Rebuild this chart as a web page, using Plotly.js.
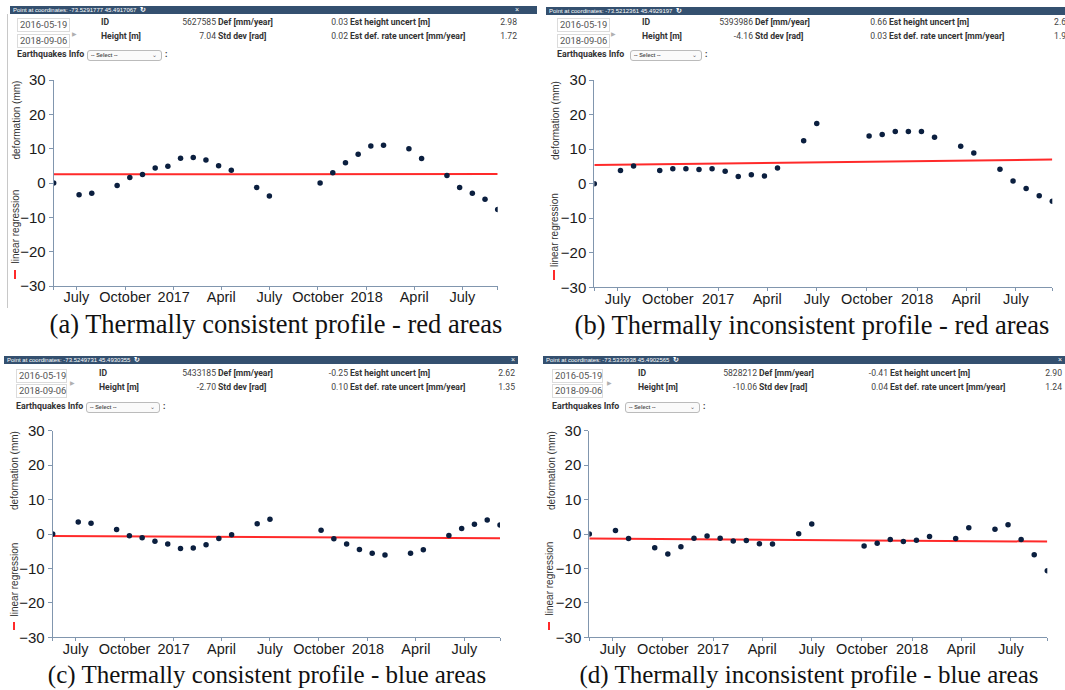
<!DOCTYPE html>
<html>
<head>
<meta charset="utf-8">
<script src="https://cdn.plot.ly/plotly-3.0.1.min.js"></script>
<style>
  html, body { margin:0; padding:0; background:#fff; }
  body { width:1065px; height:690px; overflow:hidden; position:relative; }
  #plot { position:absolute; left:0; top:0; width:1065px; height:690px; }
  #overlay { position:absolute; left:0; top:0; width:1065px; height:690px; pointer-events:none; overflow:hidden; }
  .bar { position:absolute; height:8px; background:#34506f; color:#fff; font:6px Arial, sans-serif; line-height:8px; white-space:nowrap; overflow:hidden; box-sizing:border-box; padding-left:3px; }
  .close { position:absolute; top:0; font:7px Arial, sans-serif; line-height:8px; color:#fff; }
  .box { position:absolute; height:14px; border:1px solid #dcdcdc; box-sizing:border-box; font:9.4px Roboto, Arial, sans-serif; color:#555; line-height:12px; padding-left:2px; white-space:nowrap; }
  .t { position:absolute; height:12px; line-height:12px; font:8.6px Roboto, Arial, sans-serif; white-space:nowrap; }
  .lab { font-weight:bold; color:#333; }
  .val { color:#444; text-align:right; width:80px; }
  .arrow { position:absolute; font:6px Arial, sans-serif; color:#b0b0b0; line-height:6px; }
  .sel { position:absolute; height:11px; border:1px solid #bbb; border-radius:3px; box-sizing:border-box; font:bold 5.5px Arial, sans-serif; color:#555; line-height:9px; padding-left:3px; background:#fafafa; }
  .sel span { position:absolute; right:4px; top:0; font:6px Arial, sans-serif; color:#666; }
  .cap { position:absolute; text-align:center; font-family:"Liberation Serif","Times New Roman",serif; color:#111; white-space:nowrap; width:600px; }
</style>
</head>
<body>
<div id="plot"></div>
<div id="overlay"></div>
<script>
// ---------------- data ----------------
const dates = ['2016-05-19','2016-07-06','2016-07-30','2016-09-16','2016-10-10','2016-11-03','2016-11-27',
  '2016-12-21','2017-01-14','2017-02-07','2017-03-03','2017-03-27','2017-04-20','2017-06-07','2017-07-01',
  '2017-10-05','2017-10-29','2017-11-22','2017-12-16','2018-01-09','2018-02-02','2018-03-22','2018-04-15',
  '2018-06-02','2018-06-26','2018-07-20','2018-08-13','2018-09-06'];

const defA = [0, -3.4, -3.0, -0.7, 1.6, 2.5, 4.4, 4.9, 7.2, 7.4, 6.7, 5.0, 3.7, -1.3, -3.8,
  0.0, 3.0, 5.9, 8.4, 10.8, 11.0, 10.0, 7.1, 2.2, -1.3, -3.0, -4.7, -7.7];
const defB = [0, 3.8, 5.1, 3.8, 4.3, 4.3, 4.1, 4.3, 3.6, 2.1, 2.6, 2.2, 4.5, 12.4, 17.4,
  13.8, 14.2, 15.1, 15.1, 15.1, 13.4, 10.8, 8.9, 4.2, 0.8, -1.4, -3.5, -5.1];
const defC = [0, 3.5, 3.1, 1.3, -0.5, -1.1, -2.1, -2.9, -4.2, -4.1, -3.1, -1.3, -0.2, 3.0, 4.3,
  1.1, -1.4, -2.9, -4.5, -5.6, -6.1, -5.6, -4.6, -0.4, 1.6, 2.8, 4.1, 2.6];
const defD = [0, 1.0, -1.3, -4.0, -5.8, -3.7, -1.2, -0.6, -1.2, -2.0, -1.9, -2.8, -2.9, 0.1, 2.9,
  -3.5, -2.7, -1.6, -2.2, -1.8, -0.7, -1.3, 1.8, 1.4, 2.7, -1.6, -6.0, -10.7];

const regDates = ['2016-05-19', '2018-09-06'];
const regA = [2.55, 2.6];
const regB = [5.4, 7.0];
const regC = [-0.6, -1.2];
const regD = [-1.3, -2.2];

const tickDates = ['2016-07-01','2016-10-01','2017-01-01','2017-04-01','2017-07-01','2017-10-01','2018-01-01','2018-04-01','2018-07-01'];
const tickLabels = ['July','October','2017','April','July','October','2018','April','July'];

const coords = ['-73.5291777 45.4917067','-73.5212361 45.4929197','-73.5249731 45.4930355','-73.5333938 45.4902565'];
const ids = ['5627585','5393986','5433185','5828212'];
const defRate = ['0.03','0.66','-0.25','-0.41'];
const heights = ['7.04','-4.16','-2.70','-10.06'];
const stdDev = ['0.02','0.03','0.10','0.04'];
const heightUnc = ['2.98','2.6','2.62','2.90'];
const rateUnc = ['1.72','1.9','1.35','1.24'];
const captions = ['(a) Thermally consistent profile - red areas','(b) Thermally inconsistent profile - red areas',
  '(c) Thermally consistent profile - blue areas','(d) Thermally inconsistent profile - blue areas'];
const dateFrom = '2016-05-19', dateTo = '2018-09-06';

// ---------------- layout (pixels) ----------------
const W = 1065, H = 690;
const fx = x => x / W, fy = y => 1 - y / H;
const plots = [
  {x0:53.7, x1:497.7, yt:80, yb:286, titleX:16, titleY:120.5, legX:15, legY:226.5, markY:[270,279], markX:15},
  {x0:594.3, x1:1052.3, yt:80, yb:287.3, titleX:555, titleY:121, legX:555, legY:230, markY:[270,280], markX:554},
  {x0:52.7, x1:500, yt:430.7, yb:637.3, titleX:15, titleY:471, legX:14, legY:579.5, markY:[622,630], markX:14},
  {x0:589.3, x1:1047.3, yt:430.7, yb:637.3, titleX:552, titleY:471, legX:549, legY:578.5, markY:[622,630], markX:549}
];
const series = [defA, defB, defC, defD];
const regs = [regA, regB, regC, regD];
const AX = '#8196ae';

const traces = [], layout = {
  width: W, height: H, margin:{l:0,r:0,t:0,b:0}, showlegend:false,
  paper_bgcolor:'rgba(0,0,0,0)', plot_bgcolor:'rgba(0,0,0,0)',
  annotations:[], shapes:[]
};
plots.forEach((p, i) => {
  const n = i === 0 ? '' : String(i + 1);
  traces.push({x: regDates, y: regs[i], type:'scatter', mode:'lines', line:{color:'#ff2a2a', width:2},
    xaxis:'x'+n, yaxis:'y'+n, hoverinfo:'skip'});
  traces.push({x: dates, y: series[i], type:'scatter', mode:'markers',
    marker:{color:'#0b1f3f', size:5.5}, xaxis:'x'+n, yaxis:'y'+n, cliponaxis:true});
  layout['xaxis'+n] = {
    domain:[fx(p.x0), fx(p.x1)], anchor:'y'+n, type:'date', range:[dateFrom, dateTo],
    tickmode:'array', tickvals:[dateFrom].concat(tickDates, [dateTo]), ticktext:[''].concat(tickLabels, ['']),
    showline:true, linecolor:AX, linewidth:1, ticks:'outside', ticklen:3, tickcolor:AX, tickwidth:1,
    showgrid:false, zeroline:false, tickangle:0, ticklabelstandoff:-5,
    tickfont:{family:'Liberation Sans, Arial, sans-serif', size:14.5, color:'#1a1a1a'}, fixedrange:true
  };
  layout['yaxis'+n] = {
    domain:[fy(p.yb), fy(p.yt)], anchor:'x'+n, range:[-30, 30], tickmode:'linear', tick0:-30, dtick:10,
    showline:true, linecolor:AX, linewidth:1, ticks:'outside', ticklen:4, tickcolor:AX, tickwidth:1,
    showgrid:false, zeroline:false,
    tickfont:{family:'Liberation Sans, Arial, sans-serif', size:15, color:'#1a1a1a'}, fixedrange:true
  };
  layout.annotations.push({xref:'paper', yref:'paper', x:fx(p.titleX), y:fy(p.titleY), text:'deformation (mm)',
    textangle:-90, showarrow:false, xanchor:'center', yanchor:'middle',
    font:{family:'Liberation Sans, Arial, sans-serif', size:10, color:'#333'}});
  layout.annotations.push({xref:'paper', yref:'paper', x:fx(p.legX), y:fy(p.legY), text:'linear regression',
    textangle:-90, showarrow:false, xanchor:'center', yanchor:'middle',
    font:{family:'Liberation Sans, Arial, sans-serif', size:10, color:'#333'}});
  layout.shapes.push({type:'line', xref:'paper', yref:'paper', x0:fx(p.markX), x1:fx(p.markX),
    y0:fy(p.markY[0]), y1:fy(p.markY[1]), line:{color:'#ff2a2a', width:2}});
});

Plotly.newPlot('plot', traces, layout, {staticPlot:true, displayModeBar:false});

// ---------------- header & caption overlays ----------------
const heads = [
  {bar:[10,6,527], close:515, box:[17,18,53], box2:34, arrow:[72,31], id:101, v1:216, l2:218, v2:348, l3:350, v3:517, r1:23, r2:37, eq:[17,55], sel:[87,50,75]},
  {bar:[546,7,519], close:null, box:[557,18,53], box2:34, arrow:[611,31], id:642, v1:753, l2:755, v2:887, l3:889, v3:1066, r1:23, r2:37, eq:[557,55], sel:[630,50,72]},
  {bar:[4,356,514], close:511, box:[16,369,51], box2:384, arrow:[70,380], id:99, v1:216, l2:218, v2:348, l3:350, v3:515, r1:374, r2:388, eq:[16,407], sel:[86,402,74]},
  {bar:[543,356,522], close:1058, box:[552,369,51], box2:384, arrow:[607,380], id:638, v1:757, l2:759, v2:888, l3:890, v3:1062, r1:374, r2:388, eq:[552,407], sel:[625,402,75]}
];
const caps = [
  {cx:276, top:311, size:26.5}, {cx:812, top:312, size:26.5},
  {cx:267, top:662, size:25}, {cx:809, top:662, size:25}
];
const ov = document.getElementById('overlay');
function el(cls, style, html) {
  const d = document.createElement('div');
  d.className = cls; Object.assign(d.style, style); d.innerHTML = html; ov.appendChild(d); return d;
}
heads.forEach((h, i) => {
  el('bar', {left:h.bar[0]+'px', top:h.bar[1]+'px', width:h.bar[2]+'px'},
    'Point at coordinates: ' + coords[i] + ' &nbsp;<b style="font-size:7px">&#8635;</b>');
  if (h.close !== null) el('close', {left:h.close+'px', top:h.bar[1]+'px'}, '&times;');
  el('box', {left:h.box[0]+'px', top:h.box[1]+'px', width:h.box[2]+'px'}, dateFrom);
  el('box', {left:h.box[0]+'px', top:h.box2+'px', width:h.box[2]+'px'}, dateTo);
  el('arrow', {left:h.arrow[0]+'px', top:h.arrow[1]+'px'}, '&#9654;');
  const row = (y, a, b, c, d, e, f) => {
    el('t lab', {left:h.id+'px', top:(y-6)+'px'}, a);
    el('t val', {left:(h.v1-80)+'px', top:(y-6)+'px'}, b);
    el('t lab', {left:h.l2+'px', top:(y-6)+'px'}, c);
    el('t val', {left:(h.v2-80)+'px', top:(y-6)+'px'}, d);
    el('t lab', {left:h.l3+'px', top:(y-6)+'px'}, e);
    el('t val', {left:(h.v3-80)+'px', top:(y-6)+'px'}, f);
  };
  row(h.r1, 'ID', ids[i], 'Def [mm/year]', defRate[i], 'Est height uncert [m]', heightUnc[i]);
  row(h.r2, 'Height [m]', heights[i], 'Std dev [rad]', stdDev[i], 'Est def. rate uncert [mm/year]', rateUnc[i]);
  el('t lab', {left:h.eq[0]+'px', top:(h.eq[1]-6)+'px', fontSize:'8.8px'}, 'Earthquakes Info');
  el('sel', {left:h.sel[0]+'px', top:h.sel[1]+'px', width:h.sel[2]+'px'}, '-- Select --<span>&#8964;</span>');
  el('t lab', {left:(h.sel[0]+h.sel[2]+3)+'px', top:(h.eq[1]-6)+'px'}, ':');
});
// thin frame line at left of panel (a)
el('', {position:'absolute', left:'7px', top:'14px', width:'1px', height:'294px', background:'#c8c8c8'}, '');
caps.forEach((c, i) => {
  el('cap', {left:(c.cx-300)+'px', top:c.top+'px', fontSize:c.size+'px', lineHeight:c.size+'px'}, captions[i]);
});
</script>
</body>
</html>
